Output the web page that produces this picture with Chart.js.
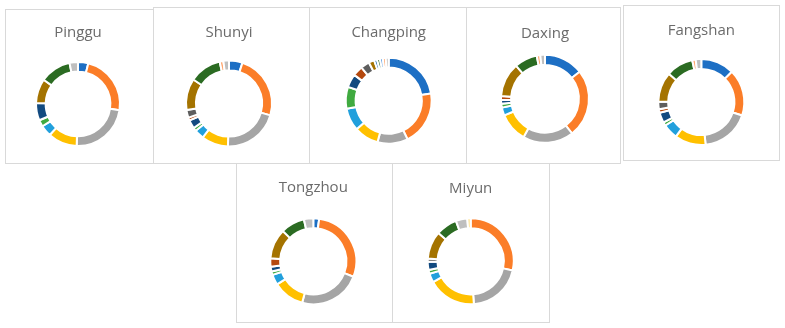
<!DOCTYPE html>
<html>
<head>
<meta charset="utf-8">
<script src="https://cdn.jsdelivr.net/npm/chart.js@4.4.1/dist/chart.umd.min.js"></script>
<style>
  html, body { margin: 0; padding: 0; background: #fff; }
  body { width: 785px; height: 328px; position: relative; overflow: hidden; }
  .panel { position: absolute; box-sizing: border-box; border: 1px solid #d9d9d9; background: #fff; }
  .panel canvas { display: block; }
</style>
</head>
<body>
<script>
// share of each class per district (%), clockwise from 12 o'clock
const categories = ['Class 1', 'Class 2', 'Class 3', 'Class 4', 'Class 5', 'Class 6', 'Class 7', 'Class 8',
  'Class 9', 'Class 10', 'Class 11', 'Class 12', 'Class 13', 'Class 14', 'Class 15', 'Class 16'];

const pinggu    = [3.9, 23.1, 22.8, 11.1, 4.3, 2.5, 6.6, 0,   0,   9.3,  0,   11.8, 0,   0,   3.2, 0];
const shunyi    = [5.1, 24.4, 21.0, 10.1, 3.6, 1.3, 3.2, 1.1, 2.9, 11.9, 0,   12.1, 0,   1.4, 2.1, 0];
const changping = [22.2, 20.4, 11.4, 9.2, 8.5, 8.2, 5.0, 3.8, 3.3, 2.1,  1.1, 1.1,  1.1, 1.1, 1.1, 0];
const daxing    = [14.4, 24.9, 18.6, 10.7, 2.9, 1.4, 1.4, 1.4, 0,   12.5, 0,   8.4,  0,   1.3, 1.7, 0];
const fangshan  = [12.6, 17.5, 18.3, 11.7, 5.7, 1.3, 3.9, 1.3, 2.8, 11.3, 0,   10.2, 0,   1.3, 2.1, 0];
const tongzhou  = [2.2, 28.6, 23.3, 11.8, 3.9, 1.25, 1.8, 3.2, 0,   11.3, 0,   9.0,  0,   0,   3.5, 0];
const miyun     = [0,   28.3, 20.3, 18.1, 3.3, 1.4, 3.1, 0,   1.2, 10.4, 0,   7.9,  0,   0,   4.3, 1.25];

const districts = ['Pinggu', 'Shunyi', 'Changping', 'Daxing', 'Fangshan', 'Tongzhou', 'Miyun'];
const series = [pinggu, shunyi, changping, daxing, fangshan, tongzhou, miyun];

const palette = ['#1D6FC4', '#FB7D28', '#A5A5A5', '#FFC000', '#22A0DC', '#40AA40', '#124A80', '#B5490F',
  '#5E5E5E', '#A47300', '#1A6AA8', '#2B6B22', '#5B9BE0', '#FFA66F', '#BFBFBF', '#FFE08A'];

// panel boxes: left, top, width, height; donut centre, visible radius, title centre y
const panels = [
  { left: 5,   top: 9,   w: 150, h: 155, cx: 78,    cy: 104,   r: 41, ty: 33 },
  { left: 153, top: 7,   w: 157, h: 157, cx: 229,   cy: 103.5, r: 42, ty: 33 },
  { left: 309, top: 7,   w: 158, h: 157, cx: 388.7, cy: 100.7, r: 42, ty: 33 },
  { left: 466, top: 7,   w: 155, h: 157, cx: 545,   cy: 98.8,  r: 43, ty: 34 },
  { left: 623, top: 5,   w: 157, h: 156, cx: 701.3, cy: 102,   r: 42, ty: 31 },
  { left: 236, top: 163, w: 157, h: 160, cx: 313.3, cy: 261.3, r: 42, ty: 188 },
  { left: 392, top: 163, w: 158, h: 160, cx: 470.7, cy: 261.3, r: 42, ty: 189 }
];

const titleSize = 15;
const lineH = titleSize * 1.2;

districts.forEach((name, i) => {
  const p = panels[i];
  const div = document.createElement('div');
  div.className = 'panel';
  div.style.left = p.left + 'px';
  div.style.top = p.top + 'px';
  div.style.width = p.w + 'px';
  div.style.height = p.h + 'px';
  const canvas = document.createElement('canvas');
  const cw = p.w - 2, ch = p.h - 2;
  canvas.width = cw;
  canvas.height = ch;
  canvas.style.width = cw + 'px';
  canvas.style.height = ch + 'px';
  div.appendChild(canvas);
  document.body.appendChild(div);

  const R = p.r + 1;
  const side = 2 * R + 2;
  const areaTop = p.cy - R - 1 - (p.top + 1);
  const areaLeft = p.cx - R - 1 - (p.left + 1);
  const titleTop = p.ty - (p.top + 1) - lineH / 2;
  const titleBottom = areaTop - titleTop - lineH;

  new Chart(canvas.getContext('2d'), {
    type: 'doughnut',
    data: {
      labels: categories,
      datasets: [{
        data: series[i],
        backgroundColor: palette,
        borderColor: '#ffffff',
        borderWidth: 2
      }]
    },
    options: {
      responsive: false,
      animation: false,
      events: [],
      cutout: '77%',
      layout: {
        padding: { top: 0, left: areaLeft, right: cw - areaLeft - side, bottom: ch - areaTop - side }
      },
      plugins: {
        legend: { display: false },
        tooltip: { enabled: false },
        title: {
          display: true,
          text: name,
          color: '#6b6b6b',
          font: { family: "'Open Sans', sans-serif", size: titleSize, weight: 'normal', lineHeight: 1.2 },
          padding: { top: titleTop, bottom: titleBottom }
        }
      }
    }
  });
});
</script>
</body>
</html>
